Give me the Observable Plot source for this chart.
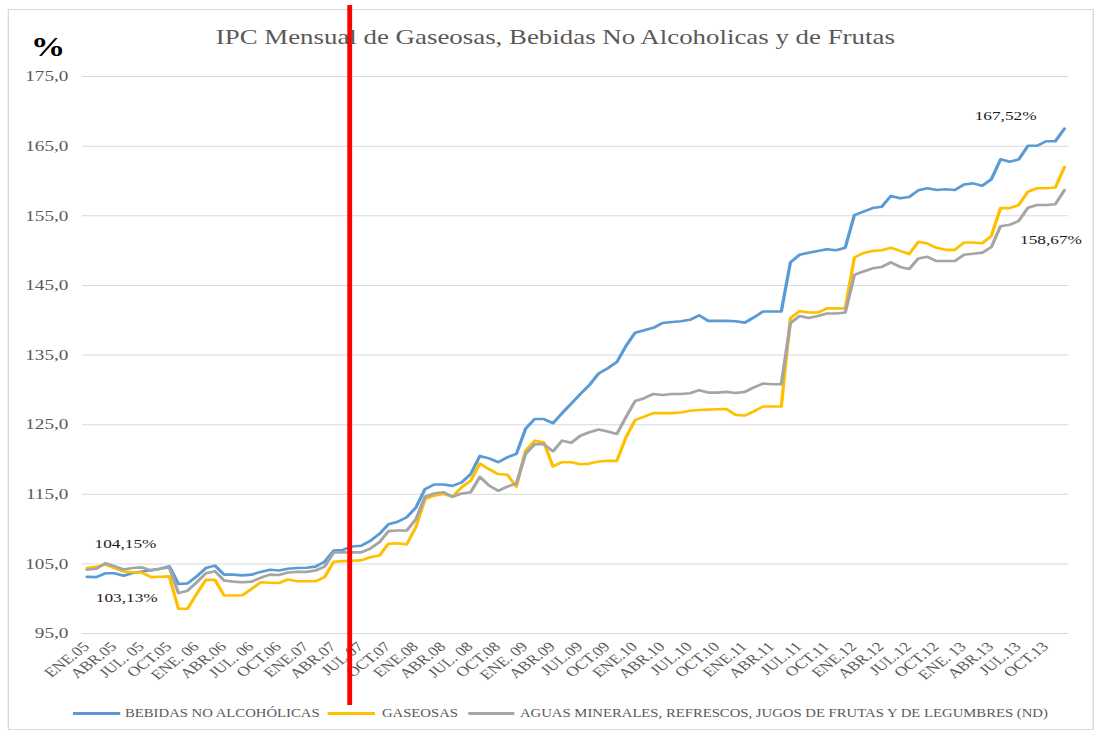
<!DOCTYPE html>
<html><head><meta charset="utf-8">
<script src="https://cdn.jsdelivr.net/npm/d3@7"></script>
<script src="https://cdn.jsdelivr.net/npm/@observablehq/plot@0.6"></script>
<style>
html,body{margin:0;padding:0;background:#fff;}
#wrap{position:relative;width:855px;height:735px;transform:scaleX(1.2795);transform-origin:0 0;font-family:"Liberation Serif","Times New Roman",serif;overflow:hidden;}
#frame{position:absolute;left:5.5px;top:9px;width:849px;height:721px;border:1px solid #d9d9d9;box-sizing:border-box;}
#chart{position:absolute;left:0;top:0;}
#title{position:absolute;top:27px;left:0;width:868px;text-align:center;font-size:21px;line-height:21px;color:#595959;white-space:nowrap;}
#pct{position:absolute;left:24px;top:34px;font-size:27px;line-height:27px;font-weight:bold;color:#000;}
.lg{position:absolute;top:711.5px;height:3px;}
.lt{position:absolute;top:706px;font-size:11.5px;line-height:14px;color:#595959;white-space:nowrap;}
</style>
</head><body>
<div id="wrap">
  <div id="frame"></div>
  <div id="chart"></div>
  <div id="title">IPC Mensual de Gaseosas, Bebidas No Alcoholicas y de Frutas</div>
  <div id="pct">%</div>
  <div class="lg" style="left:57px;width:37px;background:#5b9bd5"></div>
  <div class="lt" id="l1" style="left:97.7px"></div>
  <div class="lg" style="left:256.3px;width:36.7px;background:#ffc000"></div>
  <div class="lt" id="l2" style="left:298.5px"></div>
  <div class="lg" style="left:365.7px;width:36.8px;background:#a5a5a5"></div>
  <div class="lt" id="l3" style="left:406.4px"></div>
</div>
<script>
// ---- data ----
const seriesNames = [
  "BEBIDAS NO ALCOHÓLICAS",
  "GASEOSAS",
  "AGUAS MINERALES, REFRESCOS, JUGOS DE FRUTAS Y DE LEGUMBRES (ND)"
];
const seriesColors = ["#5b9bd5", "#ffc000", "#a5a5a5"];

// Monthly values, ENE.05 .. DIC.13
const bebidas = [
  103.13,103.1,103.65,103.65,103.3,103.7,103.9,104.1,104.3,104.65,102.1,102.2,
  103.2,104.4,104.75,103.45,103.45,103.35,103.45,103.85,104.15,104.05,104.3,104.4,
  104.45,104.6,105.3,106.9,107.0,107.5,107.6,108.3,109.3,110.7,111.05,111.7,
  113.1,115.75,116.4,116.4,116.2,116.7,117.9,120.5,120.15,119.6,120.3,120.8,
  124.4,125.8,125.8,125.2,126.65,128.0,129.4,130.7,132.35,133.1,134.0,136.3,
  138.2,138.55,138.9,139.6,139.75,139.85,140.05,140.7,139.9,139.9,139.9,139.85,
  139.65,140.4,141.25,141.25,141.25,148.3,149.4,149.7,149.95,150.2,150.05,150.4,
  155.1,155.6,156.1,156.3,157.85,157.5,157.7,158.65,158.95,158.7,158.8,158.7,
  159.5,159.65,159.3,160.25,163.1,162.75,163.1,165.05,165.05,165.7,165.7,167.52
];
const gaseosas = [
  104.4,104.6,104.9,104.4,103.9,103.8,103.75,103.1,103.15,103.2,98.55,98.55,
  100.7,102.7,102.7,100.45,100.45,100.5,101.4,102.35,102.3,102.25,102.75,102.5,
  102.5,102.5,103.1,105.3,105.4,105.45,105.5,105.95,106.2,107.9,107.95,107.8,
  110.3,114.3,114.8,115.05,114.65,116.0,116.95,119.4,118.6,117.9,117.8,116.1,
  121.25,122.7,122.45,119.0,119.6,119.6,119.3,119.4,119.7,119.8,119.8,123.2,
  125.65,126.15,126.65,126.65,126.65,126.75,127.0,127.1,127.15,127.2,127.25,126.4,
  126.3,126.9,127.6,127.6,127.6,140.3,141.3,141.1,141.1,141.7,141.7,141.7,
  149.0,149.65,149.95,150.05,150.4,149.95,149.5,151.25,151.0,150.4,150.1,150.1,
  151.15,151.15,151.05,152.1,156.1,156.1,156.55,158.45,158.95,158.95,159.05,162.0
];
const aguas = [
  104.15,104.3,105.1,104.65,104.2,104.4,104.5,104.05,104.3,104.5,100.8,101.15,
  102.35,103.65,103.95,102.6,102.45,102.35,102.45,103.0,103.45,103.4,103.75,103.85,
  103.85,104.05,104.6,106.65,106.65,106.65,106.65,107.2,108.1,109.7,109.8,109.8,
  111.4,114.65,115.1,115.3,114.65,115.1,115.3,117.5,116.25,115.5,116.1,116.55,
  120.8,122.2,122.2,121.15,122.7,122.4,123.4,123.9,124.3,124.0,123.65,126.1,
  128.4,128.8,129.4,129.25,129.4,129.4,129.5,129.95,129.6,129.6,129.7,129.55,
  129.7,130.35,130.9,130.8,130.8,139.6,140.6,140.3,140.6,140.95,140.95,141.1,
  146.5,147.0,147.45,147.65,148.3,147.65,147.35,148.85,149.1,148.5,148.5,148.5,
  149.4,149.55,149.7,150.5,153.5,153.7,154.25,156.15,156.55,156.55,156.65,158.67
];
const xLabels = [
  "ENE.05","ABR.05","JUL. 05","OCT.05","ENE. 06","ABR.06","JUL. 06","OCT.06",
  "ENE.07","ABR.07","JUL.07","OCT.07","ENE.08","ABR.08","JUL. 08","OCT.08",
  "ENE. 09","ABR.09","JUL.09","OCT.09","ENE.10","ABR.10","JUL.10","OCT.10",
  "ENE.11","ABR.11","JUL.11","OCT.11","ENE.12","ABR.12","JUL.12","OCT.12",
  "ENE. 13","ABR.13","JUL.13","OCT.13"
];
const xLabelStep = 3;
const yTicks = [95,105,115,125,135,145,155,165,175];
const markerMonth = 28.75; // red vertical marker (between MAY.07 and JUN.07)

// ---- chart ----
const FONT = '"Liberation Serif","Times New Roman",serif';
const fmtY = d => d.toFixed(1).replace(".", ",");
const fmtPct = v => v.toFixed(2).replace(".", ",") + "%";
const last = bebidas.length - 1;

document.getElementById("l1").textContent = seriesNames[0];
document.getElementById("l2").textContent = seriesNames[1];
document.getElementById("l3").textContent = seriesNames[2];

const lineOpts = (c) => ({x: (d, i) => i, y: d => d, stroke: c, strokeWidth: 2.6, strokeLinejoin: "round", strokeLinecap: "round"});

const chart = Plot.plot({
  width: 855,
  height: 735,
  marginLeft: 64,
  marginRight: 20,
  marginTop: 76,
  marginBottom: 102,
  x: {type: "linear", domain: [-0.5, bebidas.length - 0.5], axis: null},
  y: {domain: [95, 175], axis: null},
  style: {fontFamily: FONT, background: "transparent", overflow: "visible"},
  marks: [
    Plot.ruleY(yTicks, {y: d => d, stroke: "#d9d9d9", strokeWidth: 1}),
    Plot.text(yTicks, {y: d => d, frameAnchor: "left", dx: -11, textAnchor: "end", text: fmtY, fill: "#595959", fontSize: 15}),
    Plot.text(xLabels, {x: (d, k) => k * xLabelStep, frameAnchor: "bottom", text: d => d, rotate: -45, textAnchor: "end", dx: 2.5, dy: 14, fill: "#595959", fontSize: 13.5}),
    Plot.line(bebidas, lineOpts(seriesColors[0])),
    Plot.line(gaseosas, lineOpts(seriesColors[1])),
    Plot.line(aguas, lineOpts(seriesColors[2])),
    Plot.text([0], {x: d => d, y: d => aguas[d], text: d => fmtPct(aguas[d]), dx: 30, dy: -26, fill: "#1a1a1a", fontSize: 13.5}),
    Plot.text([0], {x: d => d, y: d => bebidas[d], text: d => fmtPct(bebidas[d]), dx: 31, dy: 21, fill: "#1a1a1a", fontSize: 13.5}),
    Plot.text([last], {x: d => d, y: d => bebidas[d], text: d => fmtPct(bebidas[d]), dx: -46, dy: -12.5, fill: "#1a1a1a", fontSize: 13.5}),
    Plot.text([last], {x: d => d, y: d => aguas[d], text: d => fmtPct(aguas[d]), dx: -10.5, dy: 49, fill: "#1a1a1a", fontSize: 13.5}),
    Plot.ruleX([markerMonth], {x: d => d, stroke: "#ff0000", strokeWidth: 3.8, insetTop: -71, insetBottom: -72})
  ]
});
document.getElementById("chart").appendChild(chart);
</script>
</body></html>
